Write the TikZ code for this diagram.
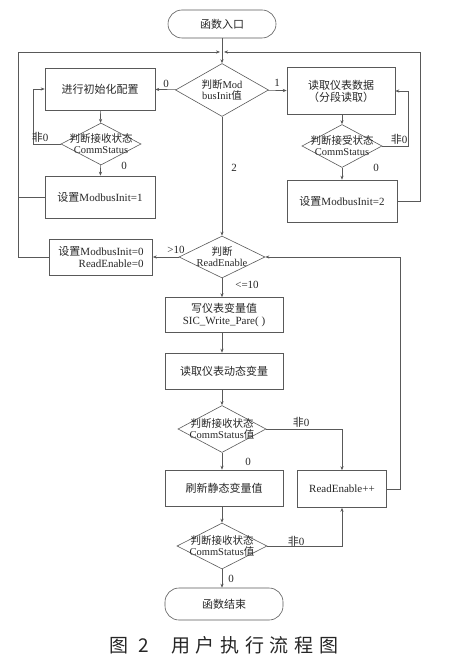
\documentclass[tikz,border=0pt]{standalone}
\usepackage{fontspec}
\setmainfont{Liberation Serif}
\newfontfamily\cjk{Noto Sans CJK SC}
\newfontfamily\cjkcap[LetterSpace=30]{Noto Sans CJK SC}
\newcommand\zh[1]{{\cjk #1}}
\usetikzlibrary{shapes.geometric,arrows.meta}
\begin{document}
\begin{tikzpicture}[x=1pt,y=-1pt,
  every node/.style={text=black!85,font=\fontsize{11}{12}\selectfont},
  line/.style={draw=black!65,line width=0.6pt},
  arr/.style={line,-{Stealth[length=4pt,width=3.2pt]}},
  box/.style={draw=black!65,line width=0.6pt,rectangle,inner sep=0pt,align=center},
  term/.style={draw=black!65,line width=0.6pt,rectangle,rounded corners=14pt,inner sep=0pt},
  dia/.style={draw=black!65,line width=0.6pt,diamond,inner sep=0pt},
  dtext/.style={align=center,inner sep=0pt,font=\fontsize{10.5}{11}\selectfont},
  lab/.style={inner sep=0pt}]
\useasboundingbox (0,0) rectangle (449,671);
% terminals
\node[term,minimum width=108pt,minimum height=28pt] (start) at (222,24) {\zh{函数入口}};
\node[term,minimum width=118pt,minimum height=32pt] (end) at (224,604) {\zh{函数结束}};
% boxes
\node[box,minimum width=110pt,minimum height=42pt] (init) at (100,89) {\zh{进行初始化配置}};
\node[box,minimum width=108pt,minimum height=47pt] (read) at (341,91) {\zh{读取仪表数据}\\\zh{（分段读取）}};
\node[box,minimum width=110pt,minimum height=42pt] (set1) at (100,197) {\zh{设置}ModbusInit=1};
\node[box,minimum width=110pt,minimum height=42pt] (set2) at (342,201) {\zh{设置}ModbusInit=2};
\node[box,minimum width=103pt,minimum height=36pt,align=right] (set0) at (101,257) {\zh{设置}ModbusInit=0\\ReadEnable=0};
\node[box,minimum width=118pt,minimum height=35pt] (write) at (224,315) {\zh{写仪表变量值}\\SIC\_Write\_Pare( )};
\node[box,minimum width=118pt,minimum height=36pt] (readdyn) at (224,371) {\zh{读取仪表动态变量}};
\node[box,minimum width=118pt,minimum height=36pt] (refresh) at (224,488) {\zh{刷新静态变量值}};
\node[box,minimum width=89pt,minimum height=37pt] (inc) at (342,489) {ReadEnable++};
% diamonds
\node[dia,minimum width=93pt,minimum height=53pt] (d1) at (222,90) {};
\node[dtext] (d1t) at (d1) {\zh{判断}Mod\\busInit\zh{值}};
\node[dia,minimum width=80pt,minimum height=42pt] (dL) at (101,144) {};
\node[dtext] (dLt) at (dL) {\zh{判断接收状态}\\CommStatus};
\node[dia,minimum width=80pt,minimum height=43pt] (dR) at (342,146) {};
\node[dtext] (dRt) at (dR) {\zh{判断接受状态}\\CommStatus};
\node[dia,minimum width=86pt,minimum height=42pt] (dRE) at (222,257) {};
\node[dtext] (dREt) at (dRE) {\zh{判断}\\ReadEnable};
\node[dia,minimum width=88pt,minimum height=47pt] (dC1) at (222,429) {};
\node[dtext] (dC1t) at (dC1) {\zh{判断接收状态}\\CommStatus\zh{值}};
\node[dia,minimum width=90pt,minimum height=46pt] (dC2) at (222,546) {};
\node[dtext] (dC2t) at (dC2) {\zh{判断接收状态}\\CommStatus\zh{值}};
% coordinates
\coordinate (topL) at (220,52);
\coordinate (topR) at (224,52);
% main connectors
\draw[arr] (start.south -| d1) -- (d1);
\draw[arr] (d1) -- (init);
\draw[arr] (d1) -- (read);
\draw[arr] (init) -- (dL);
\draw[arr] (dL) -- (set1);
\draw[arr] (read.south -| dR) -- (dR);
\draw[arr] (dR) -- (set2.north -| dR);
\draw[arr] (dL.west) -- (33,144) |- (init.west);
\draw[arr] (dR.east) -- (408,146) |- (read.east);
\draw[line] (set1.west) -- (18,197);
\draw[arr] (set0.west) -- (18,257) |- (topL);
\draw[arr] (set2.east) -- (420,201) |- (topR);
\draw[arr] (d1) -- (dRE);
\draw[arr] (dRE) -- (set0);
\draw[arr] (dRE.south) -- (write.north -| dRE);
\draw[arr] (write.south -| dRE) -- (readdyn.north -| dRE);
\draw[arr] (readdyn.south -| dRE) -- (dC1);
\draw[arr] (dC1.south) -- (refresh.north -| dC1);
\draw[arr] (refresh.south -| dC1) -- (dC2);
\draw[arr] (dC2.south) -- (end.north -| dC2);
\draw[arr] (dC1.east) -| (inc.north);
\draw[arr] (dC2.east) -| (inc.south);
\draw[arr] (inc.east) -- (400,489) |- (dRE.east);
% labels
\node[lab] at (166,84) {0};
\node[lab] at (277,83) {1};
\node[lab] at (40,137) {\zh{非}0};
\node[lab] at (399,139) {\zh{非}0};
\node[lab] at (124,166) {0};
\node[lab] at (376,168) {0};
\node[lab] at (234,168) {2};
\node[lab] at (176,250) {>10};
\node[lab] at (247,285) {<=10};
\node[lab] at (301,422) {\zh{非}0};
\node[lab] at (248,462) {0};
\node[lab] at (296,541) {\zh{非}0};
\node[lab] at (231,579) {0};
% caption
\node[inner sep=0pt,font=\fontsize{19}{20}\selectfont] (cap) at (224,645) {\cjkcap 图\hspace{10pt}2\hspace{22pt}用户执行流程图};
\end{tikzpicture}
\end{document}
